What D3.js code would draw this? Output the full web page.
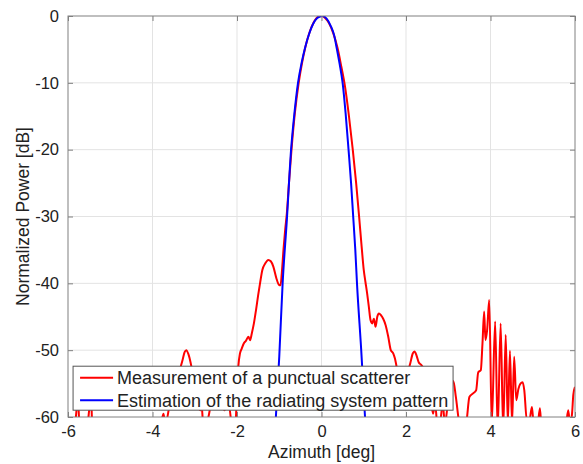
<!DOCTYPE html>
<html>
<head>
<meta charset="utf-8">
<script src="https://cdn.jsdelivr.net/npm/d3@7"></script>
<style>
  body { margin: 0; background: #fff; }
  text { font-family: "Liberation Sans", Arial, Helvetica, sans-serif; fill: #222; }
</style>
</head>
<body>
<svg id="chart" width="583" height="464"></svg>
<script>
// DATA ========================================================================

var xTicks = [-6, -4, -2, 0, 2, 4, 6];
var yTicks = [0, -10, -20, -30, -40, -50, -60];

// measured response of the point scatterer (azimuth deg, power dB)
var measAz = [-6.00, -5.85, -5.78, -5.76, -5.72, -5.60, -5.50, -5.46, -5.42, -5.25,
    -5.00, -4.85, -4.60, -4.40, -4.20, -4.00, -3.85, -3.74, -3.70, -3.62,
    -3.58, -3.50, -3.42, -3.35, -3.29, -3.24, -3.20, -3.15, -3.10, -3.05,
    -2.98, -2.92, -2.86, -2.84, -2.80, -2.70, -2.60, -2.50, -2.40, -2.30,
    -2.20, -2.10, -2.03, -2.00, -1.97, -1.93, -1.89, -1.84, -1.79, -1.73,
    -1.69, -1.65, -1.60, -1.55, -1.50, -1.455, -1.40, -1.33, -1.26, -1.20,
    -1.14, -1.07, -1.01, -0.97, -0.94, -0.90, -0.86, -0.82, -0.77, -0.71,
    -0.63, -0.54, -0.46, -0.38, -0.28, -0.18, -0.08, 0.00, 0.08, 0.18,
    0.28, 0.38, 0.47, 0.555, 0.65, 0.74, 0.82, 0.89, 0.95, 1.00,
    1.04, 1.08, 1.12, 1.16, 1.20, 1.24, 1.28, 1.32, 1.36, 1.41,
    1.46, 1.52, 1.58, 1.64, 1.70, 1.74, 1.79, 1.84, 1.90, 1.97,
    2.04, 2.10, 2.16, 2.20, 2.25, 2.30, 2.36, 2.42, 2.50, 2.58,
    2.64, 2.69, 2.74, 2.80, 2.87, 2.92, 2.99, 3.05, 3.12, 3.18,
    3.25, 3.35, 3.44, 3.50, 3.58, 3.66, 3.71, 3.77, 3.81, 3.85,
    3.88, 3.92, 3.97, 4.03, 4.11, 4.17, 4.24, 4.30, 4.36, 4.41,
    4.46, 4.51, 4.56, 4.61, 4.66, 4.71, 4.76, 4.80, 4.86, 4.92,
    4.98, 5.02, 5.10, 5.17, 5.21, 5.40, 5.60, 5.78, 5.84, 5.88,
    5.93, 5.96, 6.00];
var measDb = [-63, -62, -58, -57.5, -63, -64, -59, -56.5, -62, -65,
    -61.5, -64, -62, -66, -62.5, -65, -63, -59.5, -61, -59,
    -57, -55, -53.8, -52.8, -51.5, -50.3, -50, -50.6, -51.8, -53.5,
    -56, -58.5, -59, -58, -61, -60.5, -57.5, -56, -57, -59,
    -58, -62, -60.5, -56, -52.5, -50.5, -49.8, -49, -48.6, -48,
    -48.5, -47.5, -46, -44, -41.8, -40, -38, -37, -36.5, -36.7,
    -37.5, -39.2, -40.2, -40.3, -38.5, -35, -32, -29.5, -25, -20,
    -14.5, -10, -7, -4.6, -2.4, -0.9, -0.1, 0, -0.25, -1.1,
    -2.6, -4.8, -7.6, -10.5, -15, -20, -25, -30, -34.5, -38,
    -39.8, -41.5, -43.5, -45.5, -46, -45.3, -46.5, -45, -44.5, -44.8,
    -45.3, -46.3, -48, -50, -50.5, -51.3, -53, -55.5, -57.5, -56,
    -53.5, -52, -50.5, -50.2, -50.8, -51.8, -52.2, -52.8, -54.5, -57,
    -59.5, -58, -61, -61, -58, -61, -58, -55.5, -54.6, -57,
    -60.5, -63, -60.3, -57, -56.5, -56, -53.3, -53, -49, -44.2,
    -48.5, -47, -42.5, -61, -45.7, -62, -46, -62, -47.7, -61,
    -50.1, -61, -51, -57.5, -55.8, -55, -54.8, -56, -60.5, -60.5,
    -58.5, -61, -62, -58.7, -62, -64, -63, -61.5, -59, -61,
    -59.5, -56.7, -55.5];

// estimated pattern of the radiating system
var estAz = [-1.08, -1.00, -0.92, -0.82, -0.72, -0.64, -0.556, -0.47, -0.39, -0.30,
    -0.20, -0.10, 0.02, 0.12, 0.22, 0.30, 0.36, 0.43, 0.50, 0.57,
    0.64, 0.70, 0.75, 0.80, 0.84, 0.94, 1.03];
var estDb = [-60, -51, -40, -30.5, -20, -14.5, -10, -7, -4.8, -2.8,
    -1.2, -0.3, 0, -0.4, -1.5, -2.9, -4.8, -7.2, -10, -14.5,
    -20, -25, -30, -35, -40, -50, -60];

var legendLabels = ['Measurement of a punctual scatterer',
    'Estimation of the radiating system pattern'];

// CHART =======================================================================

var svg = d3.select('#chart'),
    margin = {top: 16, right: 8, bottom: 47, left: 68},
    width = +svg.attr('width') - margin.left - margin.right,
    height = +svg.attr('height') - margin.top - margin.bottom,
    g = svg.append('g').attr('transform', 'translate(' + margin.left + ',' + margin.top + ')');

var x = d3.scaleLinear().domain([-6, 6]).range([0, width]),
    y = d3.scaleLinear().domain([-60, 0]).range([height, 0]);

// plain hyphen minus, like the original figure
var fmt = function(d) { return String(d); };

// grid
g.append('g').selectAll('line').data(xTicks.slice(1, -1)).enter().append('line')
    .attr('x1', function(d) { return x(d); }).attr('x2', function(d) { return x(d); })
    .attr('y1', 0).attr('y2', height)
    .attr('stroke', '#e3e3e3').attr('stroke-width', 1);
g.append('g').selectAll('line').data(yTicks.slice(1, -1)).enter().append('line')
    .attr('y1', function(d) { return y(d); }).attr('y2', function(d) { return y(d); })
    .attr('x1', 0).attr('x2', width)
    .attr('stroke', '#e3e3e3').attr('stroke-width', 1);

// curves
svg.append('defs').append('clipPath').attr('id', 'clip')
    .append('rect').attr('width', width).attr('height', height);

var line = d3.line()
    .x(function(d) { return x(d[0]); })
    .y(function(d) { return y(d[1]); })
    .curve(d3.curveMonotoneX);

var curves = g.append('g').attr('clip-path', 'url(#clip)');
curves.append('path')
    .datum(d3.zip(measAz, measDb))
    .attr('fill', 'none').attr('stroke', '#ff0000').attr('stroke-width', 2)
    .attr('stroke-linejoin', 'round')
    .attr('d', line);
curves.append('path')
    .datum(d3.zip(estAz, estDb))
    .attr('fill', 'none').attr('stroke', '#0000ff').attr('stroke-width', 2)
    .attr('stroke-linejoin', 'round')
    .attr('d', line);

// axes (matlab box with inner ticks)
function styleAxis(a) {
    a.select('.domain').remove();
    a.selectAll('line').attr('stroke', '#808080');
    a.selectAll('text').attr('fill', '#222').style('font-size', '16.5px')
        .style('font-family', '"Liberation Sans", Arial, sans-serif');
}
g.append('g').attr('transform', 'translate(0,' + height + ')')
    .call(d3.axisBottom(x).tickValues(xTicks).tickFormat(fmt).tickSizeInner(-5).tickSizeOuter(0).tickPadding(8))
    .call(styleAxis);
g.append('g')
    .call(d3.axisTop(x).tickValues(xTicks).tickSizeInner(-5).tickSizeOuter(0).tickFormat(''))
    .call(styleAxis);
g.append('g')
    .call(d3.axisLeft(y).tickValues(yTicks).tickFormat(fmt).tickSizeInner(-5).tickSizeOuter(0).tickPadding(9))
    .call(styleAxis);
g.append('g').attr('transform', 'translate(' + width + ',0)')
    .call(d3.axisRight(y).tickValues(yTicks).tickSizeInner(-5).tickSizeOuter(0).tickFormat(''))
    .call(styleAxis);

g.append('rect')
    .attr('width', width).attr('height', height)
    .attr('fill', 'none').attr('stroke', '#808080').attr('stroke-width', 1);

// labels
g.append('text')
    .attr('x', width / 2).attr('y', height + 41)
    .attr('text-anchor', 'middle')
    .style('font-size', '17.5px')
    .text('Azimuth [deg]');
g.append('text')
    .attr('transform', 'rotate(-90)')
    .attr('x', -height / 2).attr('y', -39)
    .attr('text-anchor', 'middle')
    .style('font-size', '17.5px')
    .text('Normalized Power [dB]');

// legend
var legend = g.append('g').attr('transform', 'translate(' + (x(-5.88)) + ',' + (y(-52.4)) + ')');
legend.append('rect')
    .attr('width', 380).attr('height', 44)
    .attr('fill', '#fff').attr('stroke', '#555').attr('stroke-width', 1);
var legendColors = ['#ff0000', '#0000ff'];
legendLabels.forEach(function(label, i) {
    var cy = 11.5 + i * 22.5;
    legend.append('line')
        .attr('x1', 7).attr('x2', 40).attr('y1', cy).attr('y2', cy)
        .attr('stroke', legendColors[i]).attr('stroke-width', 2);
    legend.append('text')
        .attr('x', 44).attr('y', cy).attr('dy', '0.36em')
        .style('font-size', '18px')
        .text(label);
});
</script>
</body>
</html>
